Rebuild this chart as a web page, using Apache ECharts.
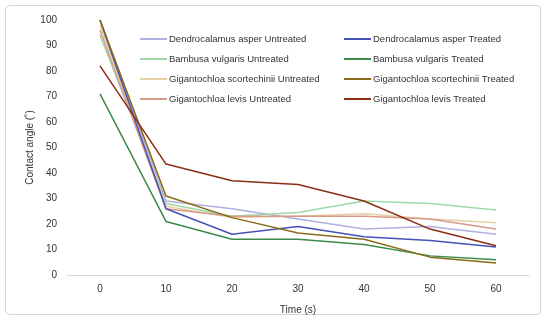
<!DOCTYPE html>
<html>
<head>
<meta charset="utf-8">
<script src="https://cdn.jsdelivr.net/npm/echarts@6/dist/echarts.min.js"></script>
<style>html,body{margin:0;padding:0;background:#fff}#c{width:550px;height:320px}</style>
</head>
<body>
<div id="c"></div>
<script>
const times = ['0','10','20','30','40','50','60'];
const daUntreated = [100, 29, 26, 22, 18, 19, 16];
const bvUntreated = [94, 28, 23, 24.5, 29, 28, 25.5];
const gsUntreated = [98, 27, 22.5, 23, 24, 22, 20.5];
const glUntreated = [96, 26, 23, 23, 23, 22, 18];
const daTreated = [100, 26, 16, 19, 15, 13.5, 11];
const bvTreated = [71, 21, 14, 14, 12, 7.5, 6];
const gsTreated = [100, 31, 22.5, 16.5, 14, 7, 4.7];
const glTreated = [82, 43.5, 37, 35.5, 29, 18, 11.5];

const seriesDefs = [
  ['Dendrocalamus asper Untreated', daUntreated, '#aeb0e0'],
  ['Bambusa vulgaris Untreated', bvUntreated, '#9ed8a6'],
  ['Gigantochloa scortechinii Untreated', gsUntreated, '#e6d0a4'],
  ['Gigantochloa levis Untreated', glUntreated, '#d69a8a'],
  ['Dendrocalamus asper Treated', daTreated, '#4552b8'],
  ['Bambusa vulgaris Treated', bvTreated, '#3a8a48'],
  ['Gigantochloa scortechinii Treated', gsTreated, '#8a6a18'],
  ['Gigantochloa levis Treated', glTreated, '#8a2e14']
];

const chart = echarts.init(document.getElementById('c'), null, {renderer:'canvas'});
const font = 'Liberation Sans, Arial, sans-serif';
const legendBase = {
  orient: 'vertical', top: 29, itemWidth: 27, itemHeight: 2, itemGap: 10,
  icon: 'rect', textStyle: {fontFamily: font, fontSize: 9.5, color: '#333', padding:[0,0,0,-3]}
};
chart.setOption({
  animation: false,
  textStyle: {fontFamily: font},
  graphic: [{type:'rect', shape:{x:5.5, y:5.5, width:535, height:309, r:4}, style:{fill:'none', stroke:'#d6d6d6', lineWidth:1}}],
  grid: {left: 67, right: 21, top: 20, bottom: 45},
  legend: [
    Object.assign({}, legendBase, {left: 135, data: seriesDefs.slice(0,4).map(s=>s[0])}),
    Object.assign({}, legendBase, {left: 339, data: seriesDefs.slice(4).map(s=>s[0])})
  ],
  xAxis: {
    type: 'category', data: times, boundaryGap: true,
    name: 'Time (s)', nameLocation: 'middle', nameGap: 30,
    nameTextStyle: {fontSize: 10, color: '#333', fontFamily: font},
    axisLine: {lineStyle: {color: '#d9d9d9'}}, axisTick: {show: false},
    axisLabel: {fontSize: 10, color: '#333', margin: 9, fontFamily: font}
  },
  yAxis: {
    type: 'value', min: 0, max: 100, interval: 10,
    name: 'Contact angle (˚)', nameLocation: 'middle', nameGap: 32, nameMoveOverlap: false,
    nameTextStyle: {fontSize: 10, color: '#333', fontFamily: font},
    axisLine: {show: false}, axisTick: {show: false}, splitLine: {show: false},
    axisLabel: {fontSize: 10, color: '#333', margin: 10, fontFamily: font}
  },
  series: seriesDefs.map(s => ({
    name: s[0], type: 'line', data: s[1], symbol: 'none', smooth: false,
    lineStyle: {width: 1.5, color: s[2]}, itemStyle: {color: s[2]}
  }))
});
</script>
</body>
</html>
